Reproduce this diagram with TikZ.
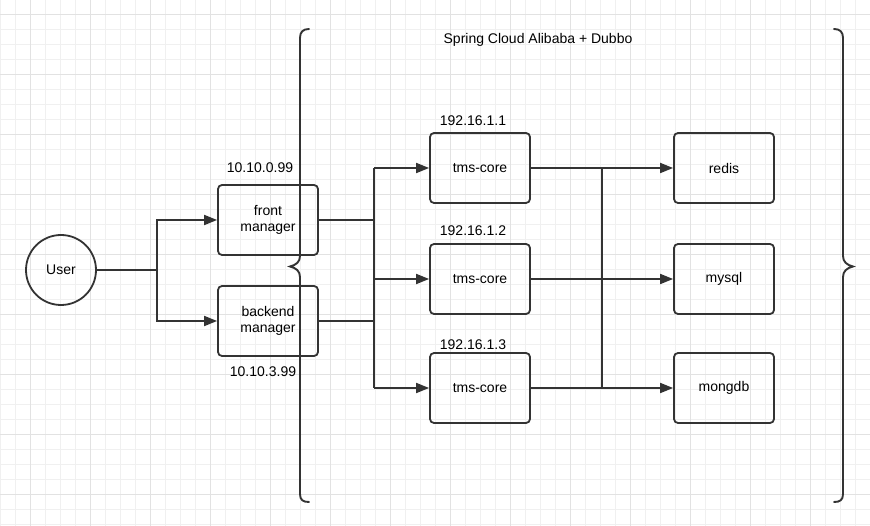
\documentclass[tikz,border=0pt]{standalone}
\usepackage{fontspec}
\setmainfont{Liberation Sans}
\usetikzlibrary{arrows.meta}
\definecolor{ink}{HTML}{333333}
\definecolor{gminor}{HTML}{F0F0F0}
\definecolor{gmajor}{HTML}{E2E2E2}
\tikzset{
  box/.style={draw=ink, line width=1.8pt, rounded corners=4pt, minimum width=100pt, minimum height=70pt, align=center, inner sep=0pt, font=\fontsize{14}{16.5}\selectfont, text=black},
  lbl/.style={font=\fontsize{14}{16}\selectfont, text=black, inner sep=0pt},
  wire/.style={draw=ink, line width=1.8pt},
  arr/.style={wire, -{Triangle[length=13pt,width=10pt]}},
  brace/.style={draw=ink, line width=1.9pt, line cap=round}
}
\begin{document}
\begin{tikzpicture}[x=1pt,y=-1pt]
\useasboundingbox (0,0) rectangle (870,526);
\fill[white] (0,0) rectangle (870,526);
% grid
\foreach \i in {0,...,58} {
  \pgfmathsetmacro{\gx}{15*\i+0.5}
  \draw[gminor, line width=0.8pt] (\gx,0) -- (\gx,526);
}
\foreach \i in {0,...,35} {
  \pgfmathsetmacro{\gy}{15*\i+14}
  \draw[gminor, line width=0.8pt] (0,\gy) -- (870,\gy);
}
\foreach \i in {0,...,14} {
  \pgfmathsetmacro{\gx}{60*\i+30.5}
  \draw[gmajor, line width=0.8pt] (\gx,0) -- (\gx,526);
}
\foreach \i in {0,...,8} {
  \pgfmathsetmacro{\gy}{60*\i+14}
  \draw[gmajor, line width=0.8pt] (0,\gy) -- (870,\gy);
}

\node[lbl] (title) at (538,40) {Spring Cloud Alibaba + Dubbo};

% nodes
\node[draw=ink, line width=1.8pt, circle, minimum size=70pt, inner sep=0pt, font=\fontsize{14}{16}\selectfont] (user) at (61,270) {User};
\node[box] (front) at (268,220) {front\\manager};
\node[box] (backend) at (268,321) {backend\\manager};
\node[lbl] (ip1) at (260,168) {10.10.0.99};
\node[lbl] (ip2) at (263,372) {10.10.3.99};

\node[box] (tms1) at (480,168) {tms-core};
\node[box] (tms2) at (480,279) {tms-core};
\node[box] (tms3) at (480,388) {tms-core};
\node[lbl] (ip3) at (473,121) {192.16.1.1};
\node[lbl] (ip4) at (473,231) {192.16.1.2};
\node[lbl] (ip5) at (473,345) {192.16.1.3};

\node[box] (redis) at (724,168) {redis};
\node[box] (mysql) at (724,279) {mysql};
\node[box] (mongo) at (724,388) {mongdb};

% braces
\draw[brace] (309,29) .. controls (303,29) and (300,32) .. (300,38) -- (300,256)
  .. controls (300,262) and (296,265) .. (290,266.5)
  .. controls (296,268) and (300,271) .. (300,277) -- (300,494)
  .. controls (300,500) and (303,502) .. (309,502);
\draw[brace] (834,29) .. controls (840,29) and (843,32) .. (843,38) -- (843,256)
  .. controls (843,262) and (847,265) .. (853,266.5)
  .. controls (847,268) and (843,271) .. (843,277) -- (843,494)
  .. controls (843,500) and (840,502) .. (834,502);

% junctions
\coordinate (ja) at (157,270);
\coordinate (jb1) at (374,168);
\coordinate (jb2) at (374,388);
\coordinate (jc1) at (602,168);
\coordinate (jc2) at (602,388);

% connectors
\draw[wire] (user.east) -- (ja);
\draw[arr] (ja) |- (front.west);
\draw[arr] (ja) |- (backend.west);
\draw[wire] (front.east) -- (front.east -| jb1);
\draw[wire] (backend.east) -- (backend.east -| jb1);
\draw[wire] (jb1) -- (jb2);
\draw[arr] (jb1) -- (tms1.west);
\draw[arr] (jb1 |- tms2.west) -- (tms2.west);
\draw[arr] (jb2) -- (tms3.west);
\draw[wire] (tms1.east) -- (jc1);
\draw[wire] (tms2.east) -- (tms2.east -| jc1);
\draw[wire] (tms3.east) -- (jc2);
\draw[wire] (jc1) -- (jc2);
\draw[arr] (jc1) -- (redis.west);
\draw[arr] (jc1 |- mysql.west) -- (mysql.west);
\draw[arr] (jc2) -- (mongo.west);
\end{tikzpicture}
\end{document}
